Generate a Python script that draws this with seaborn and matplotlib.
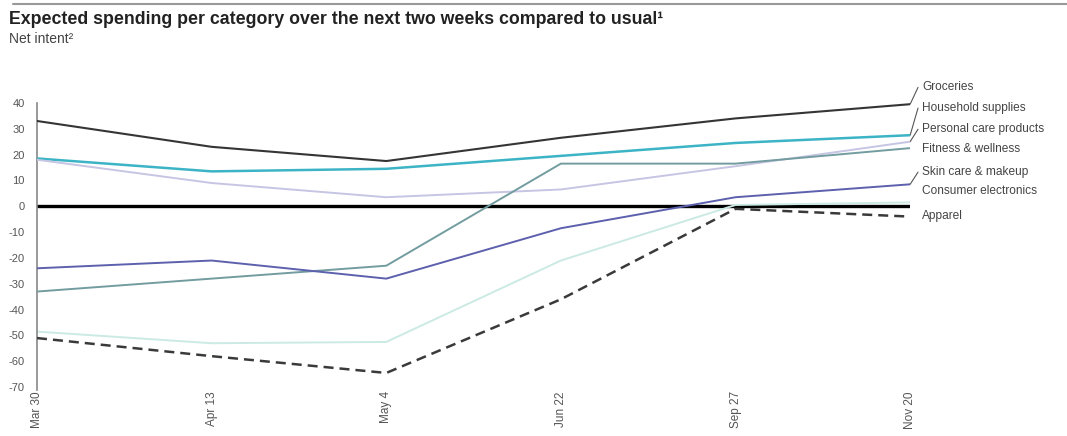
import pandas as pd
import seaborn as sns
import matplotlib.pyplot as plt

# survey waves and net intent per category
dates = ['Mar 30', 'Apr 13', 'May 4', 'Jun 22', 'Sep 27', 'Nov 20']
categories = ['Groceries', 'Household supplies', 'Personal care products', 'Fitness & wellness',
              'Skin care & makeup', 'Consumer electronics', 'Apparel']

groceries = [33, 23, 17.5, 26.5, 34, 39.5]
household = [18.5, 13.5, 14.5, 19.5, 24.5, 27.5]
personal_care = [18, 9, 3.5, 6.5, 15.5, 25]
fitness = [-33, -28, -23, 16.5, 16.5, 22.5]
skin_care = [-24, -21, -28, -8.5, 3.5, 8.5]
electronics = [-48.5, -53, -52.5, -21, 0.5, 1.5]
apparel = [-51, -58, -64.5, -36, -1, -4]

values = [groceries, household, personal_care, fitness, skin_care, electronics, apparel]

colors = {'Groceries': '#353535', 'Household supplies': '#3db4c6',
          'Personal care products': '#c6c5e3', 'Fitness & wellness': '#729c9f',
          'Skin care & makeup': '#5c60ad', 'Consumer electronics': '#cbeae3',
          'Apparel': '#3a3a3a'}
widths = {'Groceries': 1.5, 'Household supplies': 1.8, 'Personal care products': 1.4,
          'Fitness & wellness': 1.4, 'Skin care & makeup': 1.4, 'Consumer electronics': 1.4,
          'Apparel': 1.8}

# label positions (net intent units) and whether a leader line is drawn
label_y = [46, 38, 29.8, 22, 13.2, 5.8, -3.9]
leader = [True, True, True, False, True, False, False]

rows = []
for cat, vals in zip(categories, values):
    for i, v in enumerate(vals):
        rows.append({'category': cat, 'x': i, 'value': v})
df = pd.DataFrame(rows)

sns.set_style('white')
plt.rcParams['font.family'] = ['Liberation Sans', 'DejaVu Sans']
plt.rcParams['axes.unicode_minus'] = False

fig = plt.figure(figsize=(10.67, 4.36), dpi=100)
ax = fig.add_axes([0.0347, 0.112, 0.8183, 0.652])

ax.axhline(0, color='black', lw=2.4, zorder=1)

for cat in categories:
    sub = df[df['category'] == cat]
    ls = (0, (4, 2.4)) if cat == 'Apparel' else '-'
    sns.lineplot(data=sub, x='x', y='value', ax=ax, color=colors[cat], lw=widths[cat],
                 linestyle=ls, legend=False, zorder=3 if cat != 'Consumer electronics' else 2)

ax.set_xlim(0, len(dates) - 1)
ax.set_ylim(-70, 40)
ax.set_yticks(range(-70, 41, 10))
ax.set_xticks(range(len(dates)))
ax.set_xticklabels(dates, rotation=90, fontsize=8.5, color='#555555')
ax.tick_params(axis='y', labelsize=8, colors='#555555', length=0, pad=9)
ax.tick_params(axis='x', length=0, pad=3)
ax.set_xlabel('')
ax.set_ylabel('')
for s in ['top', 'right', 'bottom']:
    ax.spines[s].set_visible(False)
ax.spines['left'].set_color('#888888')
ax.spines['left'].set_linewidth(1.2)
ax.spines['left'].set_bounds(-71, 40)

# right-hand labels
last = len(dates) - 1
for cat, vals, ly, ld in zip(categories, values, label_y, leader):
    if ld:
        ax.plot([last, last + 0.045], [vals[-1], ly], color='#555555', lw=0.8, clip_on=False)
    ax.text(last + 0.07, ly, cat, fontsize=8.6, color='#444444', va='center', ha='left',
            clip_on=False)

fig.text(0.008, 0.955, 'Expected spending per category over the next two weeks compared to usual\u00b9',
         fontsize=12.8, fontweight='bold', color='#222222', va='center')
fig.text(0.008, 0.91, 'Net intent\u00b2', fontsize=10, color='#444444', va='center')
fig.add_artist(plt.Line2D([0.012, 1.0], [0.99, 0.99], color='#999999', lw=1.5,
                          transform=fig.transFigure))

fig.savefig('out.png', dpi=100)
